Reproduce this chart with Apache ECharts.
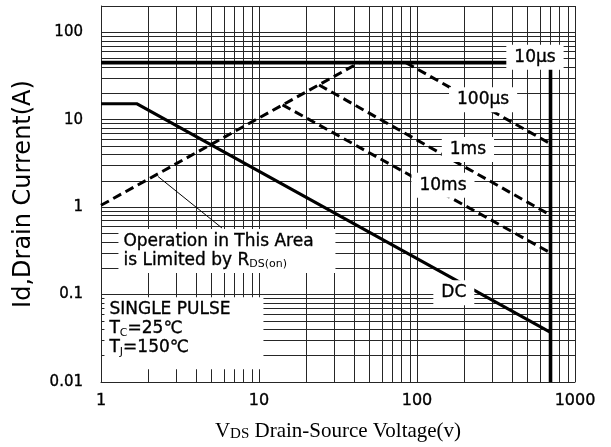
<!DOCTYPE html>
<html>
<head>
<meta charset="utf-8">
<script src="https://cdn.jsdelivr.net/npm/echarts@6/dist/echarts.min.js"></script>
<style>
  html, body { margin: 0; padding: 0; background: #fff; }
  #chart { width: 611px; height: 447px; }
</style>
</head>
<body>
<div id="chart"></div>
<script>
// Safe operating area: drain current (A) against drain-source voltage (V), log/log.

// Boundary curves, [VDS, Id]
const rdsLimit   = [[1, 1.05], [43, 45]];
const pulse10us  = [[1, 45], [700, 45], [700, 0.01]];
const pulse100us = [[85, 45], [700, 5.3]];
const pulse1ms   = [[24, 25], [700, 0.81]];
const pulse10ms  = [[14.1, 14.8], [700, 0.30]];
const dcLimit    = [[1, 15.2], [1.69, 15.2], [700, 0.037]];

// Tick labels
const xTickLabels = ['1', '10', '100', '1000'];
const yTickLabels = ['0.01', '0.1', '1', '10', '100'];

// Curve name tags, placed at [VDS, Id]
const tagNames  = ['10μs', '100μs', '1ms', '10ms', 'DC'];
const tagPoints = [[558, 52], [262, 16.9], [210, 4.56], [146, 1.78], [171, 0.105]];

// Note anchors (left edge, vertical middle) and the pointer arrow
const rdsNoteAt   = [1.28, 0.316];
const pulseNoteAt = [1.044, 0.036];
const arrowFrom   = [5.83, 0.577];
const arrowTo     = [2.29, 2.25];

const GRID = '#262626';
const INK = '#000';
const SANS = 'DejaVu Sans';
const HEAVY = { textBorderColor: '#000', textBorderWidth: 0.35 };

function decadeFormatter(list) {
  return function (v) {
    const e = Math.log10(v);
    const r = Math.round(e);
    if (Math.abs(e - r) > 1e-6) return '';
    const hit = list.find(s => Math.abs(Math.log10(parseFloat(s)) - r) < 1e-6);
    return hit || '';
  };
}

// Intermediate log grid lines (2..9 in each decade)
const minorLines = [];
for (let d = 0; d < 3; d++) for (let m = 2; m <= 9; m++) minorLines.push({ xAxis: +(m * Math.pow(10, d)).toPrecision(3) });
for (let d = -2; d < 2; d++) for (let m = 2; m <= 9; m++) minorLines.push({ yAxis: +(m * Math.pow(10, d)).toPrecision(3) });

function curve(data, dashed, width) {
  return {
    type: 'line', data: data, z: 3, symbol: 'none', silent: true, animation: false,
    lineStyle: { color: '#000', width: width, type: dashed ? [9, 5] : 'solid', cap: 'butt', join: 'miter' }
  };
}

const chart = echarts.init(document.getElementById('chart'), null, { renderer: 'canvas' });

chart.setOption({
  backgroundColor: '#fff',
  animation: false,
  grid: { left: 101, right: 36, top: 6, bottom: 62 },
  xAxis: {
    type: 'log', logBase: 10, min: 1, max: 1000,
    axisLine: { show: true, lineStyle: { color: GRID, width: 1 } },
    axisTick: { show: false },
    splitLine: { show: true, lineStyle: { color: GRID, width: 1 } },
    axisLabel: Object.assign({ formatter: decadeFormatter(xTickLabels), fontFamily: SANS, fontSize: 16, color: INK, margin: 11 }, HEAVY),
    name: '{v|V}{s|DS}{v| Drain-Source Voltage(v)}',
    nameLocation: 'middle', nameGap: 37,
    nameTextStyle: {
      rich: {
        v: { fontFamily: 'Liberation Serif', fontSize: 21, color: INK, lineHeight: 24 },
        s: { fontFamily: 'Liberation Serif', fontSize: 15, color: INK, lineHeight: 15, padding: [7, 0, 0, 0] }
      }
    }
  },
  yAxis: {
    type: 'log', logBase: 10, min: 0.01, max: 200,
    axisLine: { show: true, lineStyle: { color: GRID, width: 1 } },
    axisTick: { show: false },
    splitLine: { show: true, lineStyle: { color: GRID, width: 1 } },
    axisLabel: Object.assign({ formatter: decadeFormatter(yTickLabels), fontFamily: SANS, fontSize: 15, color: INK, margin: 18 }, HEAVY),
    name: 'Id,Drain Current(A)',
    nameLocation: 'middle', nameRotate: 90, nameGap: 65,
    nameTextStyle: { fontFamily: SANS, fontSize: 24, color: INK }
  },
  series: [
    // log grid between decades
    {
      type: 'line', data: [[1, 1]], symbol: 'none', z: 1, silent: true,
      lineStyle: { opacity: 0 },
      markLine: {
        z: 1, silent: true, symbol: 'none', animation: false,
        label: { show: false }, emphasis: { disabled: true },
        lineStyle: { color: GRID, width: 1, type: 'solid' },
        data: minorLines
      }
    },
    curve(rdsLimit, true, 3),
    curve(pulse10us, false, 3.6),
    curve(pulse100us, true, 3),
    curve(pulse1ms, true, 3),
    curve(pulse10ms, true, 3),
    curve(dcLimit, false, 3),
    // pointer arrow to the RDS(on) line
    {
      type: 'line', data: [[1, 1]], symbol: 'none', z: 4, silent: true,
      lineStyle: { opacity: 0 },
      markLine: {
        z: 4, silent: true, animation: false, symbol: ['none', 'arrow'], symbolSize: [0, 10],
        label: { show: false }, emphasis: { disabled: true },
        lineStyle: { color: '#000', width: 1, type: 'solid' },
        data: [[{ coord: arrowFrom }, { coord: arrowTo }]]
      }
    },
    // curve name tags
    {
      type: 'scatter', z: 10, silent: true, symbolSize: 1,
      itemStyle: { color: 'rgba(0,0,0,0)' },
      data: tagNames.map((n, i) => ({ name: n, value: tagPoints[i] })),
      label: Object.assign({
        show: true, position: 'inside', formatter: '{b}', opacity: 1,
        fontFamily: SANS, fontSize: 17, color: INK,
        backgroundColor: '#fff', padding: [4, 8]
      }, HEAVY)
    },
    // notes
    {
      type: 'scatter', z: 10, silent: true, symbolSize: 1,
      itemStyle: { color: 'rgba(0,0,0,0)' },
      data: [
        {
          value: rdsNoteAt,
          label: {
            formatter: '{a|Operation in This Area}\n{a|is Limited by R}{s|DS(on)}',
            width: 204, padding: [3, 8, 3, 5]
          }
        },
        {
          value: pulseNoteAt,
          label: {
            formatter: '{a|SINGLE PULSE}\n{a|T}{s|C}{a|=25℃}\n{a|T}{s|J}{a|=150℃}',
            width: 150, padding: [3, 4, 12, 5]
          }
        }
      ],
      label: {
        show: true, position: 'right', distance: 0, align: 'left', verticalAlign: 'middle',
        backgroundColor: '#fff', color: INK, opacity: 1,
        rich: {
          a: Object.assign({ fontFamily: SANS, fontSize: 17, lineHeight: 19, color: INK }, HEAVY),
          s: { fontFamily: SANS, fontSize: 11, lineHeight: 11, color: INK, padding: [8, 0, 0, 0] }
        }
      }
    }
  ]
});
</script>
</body>
</html>
